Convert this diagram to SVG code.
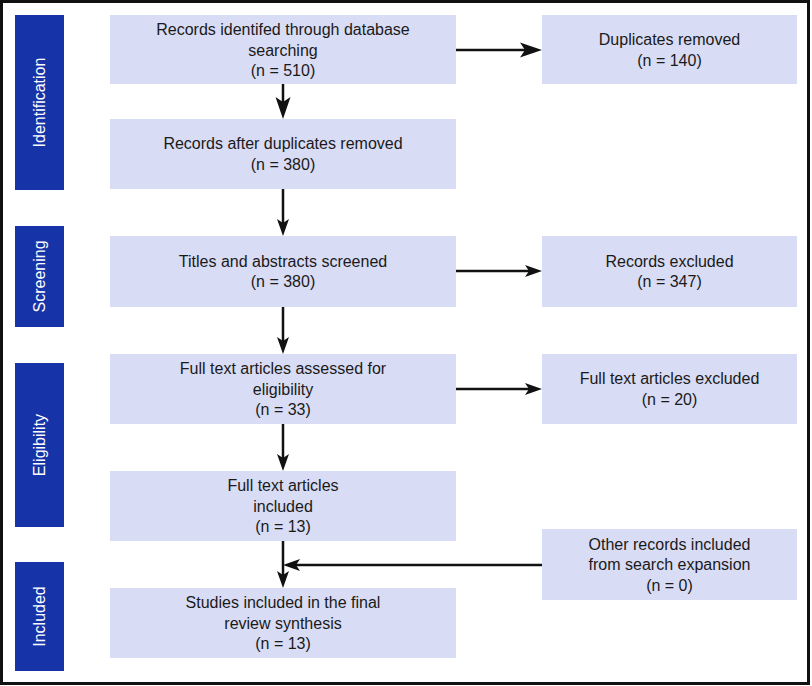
<svg xmlns="http://www.w3.org/2000/svg" width="812" height="686" viewBox="0 0 812 686">
<style>
.frame{fill:#ffffff;stroke:#111111;stroke-width:3}
.bar{fill:#1633a8}
.box{fill:#d9dcf5}
.bt{font-family:"Liberation Sans",Arial,sans-serif;font-size:16px;fill:#1a1a1a;text-anchor:middle}
.st{font-family:"Liberation Sans",Arial,sans-serif;font-size:16px;fill:#ffffff;text-anchor:middle}
.c{stroke:#111111;stroke-width:2.5;fill:none}
</style>
<defs>
<marker id="ahL" markerUnits="userSpaceOnUse" viewBox="0 -8 22 16" markerWidth="22" markerHeight="16" refX="5" refY="0" orient="auto">
<path d="M0,-7.5 L22,0 L0,7.5 L5,0 Z" fill="#111111"/>
</marker>
<marker id="ah" markerUnits="userSpaceOnUse" viewBox="0 -6.5 17 13" markerWidth="17" markerHeight="13" refX="4" refY="0" orient="auto">
<path d="M0,-6 L17,0 L0,6 L4,0 Z" fill="#111111"/>
</marker>
</defs>
<rect class="frame" x="1.5" y="1.5" width="807" height="682"/>
<g id="phase-identification"><rect class="bar" x="15" y="15" width="49" height="175"/><text class="st" transform="translate(45,102.5) rotate(-90)">Identification</text></g>
<g id="phase-screening"><rect class="bar" x="15" y="226" width="49" height="101"/><text class="st" transform="translate(45,276.5) rotate(-90)">Screening</text></g>
<g id="phase-eligibility"><rect class="bar" x="15" y="363" width="49" height="164"/><text class="st" transform="translate(45,445) rotate(-90)">Eligibility</text></g>
<g id="phase-included"><rect class="bar" x="15" y="562" width="49" height="109"/><text class="st" transform="translate(45,616.5) rotate(-90)">Included</text></g>
<g id="n-identified"><rect class="box" x="110" y="15" width="346" height="69"/><text class="bt" x="283" y="35">Records identifed through database</text><text class="bt" x="283" y="55.5">searching</text><text class="bt" x="283" y="76">(n = 510)</text></g>
<g id="n-after-dup"><rect class="box" x="110" y="119" width="346" height="70"/><text class="bt" x="283" y="149">Records after duplicates removed</text><text class="bt" x="283" y="170">(n = 380)</text></g>
<g id="n-screened"><rect class="box" x="110" y="236" width="346" height="71"/><text class="bt" x="283" y="266.5">Titles and abstracts screened</text><text class="bt" x="283" y="287">(n = 380)</text></g>
<g id="n-fulltext"><rect class="box" x="110" y="354" width="346" height="70"/><text class="bt" x="283" y="374">Full text articles assessed for</text><text class="bt" x="283" y="394.5">eligibility</text><text class="bt" x="283" y="415">(n = 33)</text></g>
<g id="n-ft-included"><rect class="box" x="110" y="471" width="346" height="70"/><text class="bt" x="283" y="491">Full text articles</text><text class="bt" x="283" y="511.5">included</text><text class="bt" x="283" y="532">(n = 13)</text></g>
<g id="n-final"><rect class="box" x="110" y="588" width="346" height="70"/><text class="bt" x="283" y="608">Studies included in the final</text><text class="bt" x="283" y="628.5">review synthesis</text><text class="bt" x="283" y="649">(n = 13)</text></g>
<g id="n-duplicates"><rect class="box" x="542" y="15" width="255" height="69"/><text class="bt" x="669.5" y="45">Duplicates removed</text><text class="bt" x="669.5" y="65.5">(n = 140)</text></g>
<g id="n-rec-excluded"><rect class="box" x="542" y="236" width="255" height="71"/><text class="bt" x="669.5" y="266.5">Records excluded</text><text class="bt" x="669.5" y="287">(n = 347)</text></g>
<g id="n-ft-excluded"><rect class="box" x="542" y="354" width="255" height="70"/><text class="bt" x="669.5" y="384">Full text articles excluded</text><text class="bt" x="669.5" y="404.5">(n = 20)</text></g>
<g id="n-other"><rect class="box" x="542" y="529" width="255" height="71"/><text class="bt" x="669.5" y="549.5">Other records included</text><text class="bt" x="669.5" y="570">from search expansion</text><text class="bt" x="669.5" y="590.5">(n = 0)</text></g>
<g id="connectors">
<line class="c" x1="283" y1="84" x2="283" y2="102" marker-end="url(#ahL)"/>
<line class="c" x1="456" y1="50" x2="525" y2="50" marker-end="url(#ahL)"/>
<line class="c" x1="283" y1="189" x2="283" y2="223" marker-end="url(#ah)"/>
<line class="c" x1="456" y1="271" x2="529" y2="271" marker-end="url(#ah)"/>
<line class="c" x1="283" y1="307" x2="283" y2="341" marker-end="url(#ah)"/>
<line class="c" x1="456" y1="389" x2="529" y2="389" marker-end="url(#ah)"/>
<line class="c" x1="283" y1="424" x2="283" y2="458" marker-end="url(#ah)"/>
<line class="c" x1="283" y1="541" x2="283" y2="575" marker-end="url(#ah)"/>
<line class="c" x1="542" y1="565" x2="296" y2="565" marker-end="url(#ah)"/>
</g>
</svg>
